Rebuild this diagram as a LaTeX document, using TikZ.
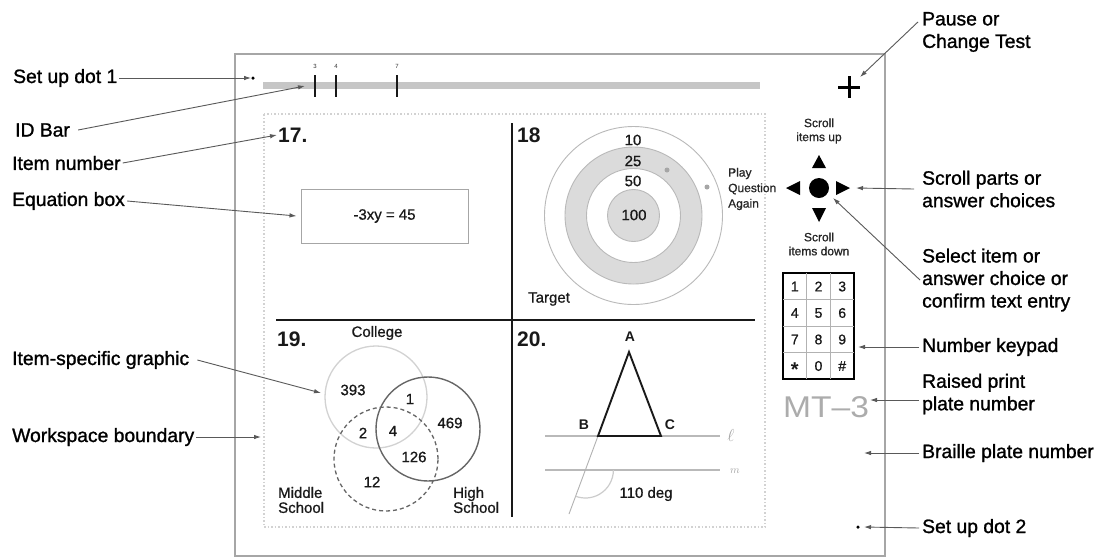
\documentclass[tikz,border=0pt]{standalone}
\usepackage{fontspec}
\setmainfont{Liberation Sans}
\newfontfamily\labfont{Liberation Sans}[FakeBold=1.2]
\newfontfamily\inner{Liberation Sans}[FakeBold=0.8]
\usetikzlibrary{arrows.meta}
\newcommand\fsz[2]{\fontsize{#1}{#2}\selectfont}
\begin{document}
\begin{tikzpicture}[x=1pt,y=-1pt,
  lab/.style={font=\labfont\fsz{19.3}{22.5}, inner sep=0pt, align=left, text=black},
  conn/.style={draw=black!65, line width=0.9pt, -{Latex[length=7pt,width=4.5pt]}},
  itemno/.style={font=\fsz{21}{24}\bfseries, inner sep=0pt, text=black!90},
  txt/.style={font=\inner\fsz{15}{15}, inner sep=0pt, align=left, text=black!90},
  smalltxt/.style={font=\inner\fsz{12}{15.5}, inner sep=0pt, align=left, text=black!85},
  scrolltxt/.style={font=\inner\fsz{12}{14}, inner sep=0pt, align=center, text=black!85},
  keytxt/.style={font=\inner\fsz{14}{14}, inner sep=0pt, text=black!90},
  ticktxt/.style={font=\fsz{6}{6}, inner sep=0pt, text=black!80},
  divider/.style={line width=2.2pt, black!90},
  arrowtri/.style={fill=black}
]
\useasboundingbox (0,0) rectangle (1100,558);
\fill[white] (0,0) rectangle (1100,558);

% plate and workspace
\draw[gray!70, line width=1.3pt] (235,54) rectangle (885,556);
\draw[gray!35, line width=1.6pt, dash pattern=on 1.5pt off 2pt] (264,114) rectangle (765,527);

% ID bar
\fill[gray!45] (263,82) rectangle (760,89);
\foreach \x/\t in {315/3,336/4,397/7}{
  \draw[line width=2.6pt, black!90] (\x,75) -- (\x,97);
  \node[ticktxt] (tick\t) at (\x,66) {\t};
}
\node[circle, fill=black, inner sep=0pt, minimum size=3.5pt] (sud1dot) at (253,78) {};

% plus
\draw[line width=3pt] (838,87) -- (860,87) (849,76) -- (849,98);
\coordinate (plustgt) at (860,77);

% dividers
\draw[divider] (512,123) -- (512,517);
\draw[divider] (276,320) -- (755,320);

% item numbers
\node[itemno, anchor=west] (n17) at (278,135) {17.};
\node[itemno, anchor=west] (n18) at (517,135) {18};
\node[itemno, anchor=west] (n19) at (277,339) {19.};
\node[itemno, anchor=west] (n20) at (517,339) {20.};

% equation box
\node[draw=gray!70, line width=0.9pt, minimum width=167pt, minimum height=54pt, font=\inner\fsz{15}{15}, text=black!90] (eqbox) at (384.5,216) {-3xy = 45};

% target
\draw[gray!55, line width=0.9pt, fill=white] (633.5,215.5) circle[radius=89pt];
\draw[gray!55, line width=0.9pt, fill=gray!28] (633.5,215.5) circle[radius=68.5pt];
\draw[gray!55, line width=0.9pt, fill=white] (633.5,215.5) circle[radius=47pt];
\draw[gray!55, line width=0.9pt, fill=gray!28] (633.5,215.5) circle[radius=26pt];
\node[txt] (t10) at (633,140) {10};
\node[txt] (t25) at (633,161) {25};
\node[txt] (t50) at (633,181) {50};
\node[txt] (t100) at (634,215) {100};
\fill[gray!70] (667,170) circle[radius=2.5pt];
\fill[gray!70] (707,187) circle[radius=2.5pt];
\node[smalltxt, anchor=west] (play) at (728,189) {Play\\Question\\Again};
\node[txt, anchor=west] (target) at (528,299) {Target};

% Venn
\draw[gray!35, line width=1.3pt] (376,397) circle[radius=51pt];
\draw[black!60, line width=1.4pt] (428,429) circle[radius=52pt];
\draw[black!60, line width=1.3pt, dash pattern=on 4pt off 3pt] (386,459) circle[radius=52pt];
\node[txt] (college) at (377,333) {College};
\node[txt] (v393) at (353,390) {393};
\node[txt] (v1) at (410,399) {1};
\node[txt] (v469) at (450,423) {469};
\node[txt] (v2) at (363,433) {2};
\node[txt] (v4) at (393,431) {4};
\node[txt] (v126) at (414,457) {126};
\node[txt] (v12) at (372,482) {12};
\node[txt, anchor=west] (mschool) at (278,500) {Middle\\School};
\node[txt, anchor=west] (hschool) at (453,500) {High\\School};

% geometry
\draw[gray!55, line width=1.2pt] (545,436) -- (720,436);
\draw[gray!55, line width=1.2pt] (545,470) -- (720,470);
\draw[gray!60, line width=0.9pt] (598,436) -- (569,514);
\draw[gray!40, line width=1.2pt] (613.4,470) arc[start angle=0, end angle=-110, radius=28pt];
\draw[line width=1.9pt, black!90, line join=miter] (598,436) -- (629,352) -- (661,436) -- cycle;
\node[txt, font=\fsz{14}{14}\bfseries] (ptA) at (630,337) {A};
\node[txt, font=\fsz{14}{14}\bfseries] (ptB) at (584,425) {B};
\node[txt, font=\fsz{14}{14}\bfseries] (ptC) at (670,425) {C};
\node[inner sep=0pt, text=gray!70, font=\fsz{16}{16}] (linel) at (731,435) {$\ell$};
\node[inner sep=0pt, text=gray!70, font=\fsz{11}{11}] (linem) at (735,471) {$m$};
\node[txt] (deg) at (646,494) {110 deg};

% scroll controls
\node[scrolltxt] (sup) at (819,131) {Scroll\\items up};
\node[scrolltxt] (sdown) at (819,244) {Scroll\\items down};
\node[circle, fill=black, inner sep=0pt, minimum size=20pt] (ctr) at (819,188) {};
\fill[arrowtri] (812,168) -- (826,168) -- (819,155) -- cycle;
\fill[arrowtri] (812,208) -- (826,208) -- (819,222) -- cycle;
\fill[arrowtri] (800,181) -- (800,195) -- (786,188) -- cycle;
\fill[arrowtri] (836,181) -- (836,195) -- (850,188) -- cycle;

% keypad
\node[draw, line width=2pt, minimum width=71pt, minimum height=106pt, inner sep=0pt] (keypad) at (818.5,326) {};
\draw[gray!60, line width=0.8pt] (806.67,273) -- (806.67,379) (830.33,273) -- (830.33,379)
  (783,299.5) -- (854,299.5) (783,326) -- (854,326) (783,352.5) -- (854,352.5);
\node[keytxt] (k1) at (794.8,286.5) {1};
\node[keytxt] (k2) at (818.5,286.5) {2};
\node[keytxt] (k3) at (842.2,286.5) {3};
\node[keytxt] (k4) at (794.8,313) {4};
\node[keytxt] (k5) at (818.5,313) {5};
\node[keytxt] (k6) at (842.2,313) {6};
\node[keytxt] (k7) at (794.8,339.5) {7};
\node[keytxt] (k8) at (818.5,339.5) {8};
\node[keytxt] (k9) at (842.2,339.5) {9};
\node[keytxt, font=\fsz{20}{20}\bfseries] (kstar) at (794.8,370) {*};
\node[keytxt] (k0) at (818.5,366) {0};
\node[keytxt] (khash) at (842.2,366) {\#};

% plate number
\node[inner sep=0pt, text=gray!65, font=\fsz{30}{30}, xscale=1.12] (mt) at (826,407) {MT--3};

% set up dot 2
\node[circle, fill=black, inner sep=0pt, minimum size=3.5pt] (sud2dot) at (858,527) {};

% left labels
\node[lab, anchor=west] (lsud1) at (13,78) {Set up dot 1};
\node[lab, anchor=west] (lid) at (15,130) {ID Bar};
\node[lab, anchor=west] (litem) at (12,163) {Item number};
\node[lab, anchor=west] (leq) at (12,201) {Equation box};
\node[lab, anchor=west] (lisg) at (12,360) {Item-specific graphic};
\node[lab, anchor=west] (lws) at (12,437) {Workspace boundary};

% right labels
\node[lab, anchor=west] (rpause) at (922,32) {Pause or\\Change Test};
\node[lab, anchor=west] (rscroll) at (922,189) {Scroll parts or\\answer choices};
\node[lab, anchor=west] (rselect) at (922,280) {Select item or\\answer choice or\\confirm text entry};
\node[lab, anchor=west] (rkey) at (922,347) {Number keypad};
\node[lab, anchor=west] (rraised) at (922,394) {Raised print\\plate number};
\node[lab, anchor=west] (rbraille) at (922,453) {Braille plate number};
\node[lab, anchor=west] (rsud2) at (922,528) {Set up dot 2};

% targets
\coordinate (idtgt) at (305,86);
\coordinate (isgtgt) at (321,393);
\coordinate (wstgt) at (261,437);
\coordinate (scrolltgt) at (856,188);
\coordinate (selecttgt) at (833,198);
\coordinate (keytgt) at (858,347);
\coordinate (raisedtgt) at (870,400);
\coordinate (brailletgt) at (864,453);
\coordinate (sud2tgt) at (864,527);

% connectors
\draw[conn] ([xshift=2pt]lsud1.east) -- (sud1dot.west);
\draw[conn] ([xshift=8pt]lid.east) -- (idtgt);
\draw[conn] ([xshift=2pt]litem.east) -- ([xshift=-1pt]n17.west);
\draw[conn] ([xshift=2pt]leq.east) -- ([xshift=-4pt]eqbox.west);
\draw[conn] ([xshift=8pt]lisg.east) -- (isgtgt);
\draw[conn] ([xshift=2pt]lws.east) -- (wstgt);
\draw[conn] ([shift={(-4pt,-10pt)}]rpause.north west) -- (plustgt);
\draw[conn] ([xshift=-8pt]rscroll.west) -- (scrolltgt);
\draw[conn] ([xshift=-2pt]rselect.west) -- (selecttgt);
\draw[conn] ([xshift=-3pt]rkey.west) -- (keytgt);
\draw[conn] ([shift={(-3pt,-6pt)}]rraised.west) -- (raisedtgt);
\draw[conn] ([xshift=-3pt]rbraille.west) -- (brailletgt);
\draw[conn] ([xshift=-3pt]rsud2.west) -- (sud2tgt);
\end{tikzpicture}
\end{document}
